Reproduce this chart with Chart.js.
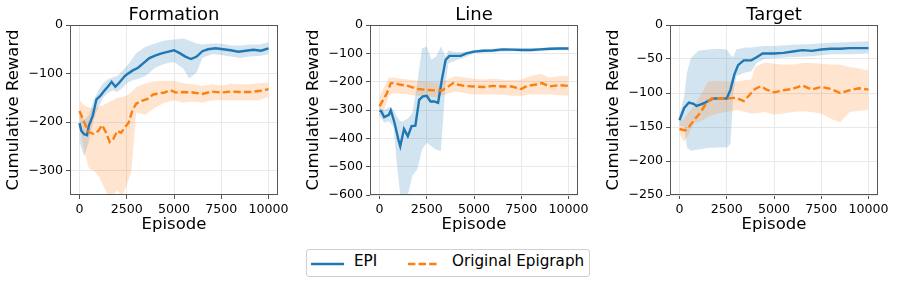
<!DOCTYPE html>
<html>
<head>
<meta charset="utf-8">
<script src="https://cdn.jsdelivr.net/npm/chart.js@4.4.0/dist/chart.umd.min.js"></script>
<style>
  body { margin: 0; background: #fff; width: 897px; height: 283px; position: relative; overflow: hidden; font-family: 'DejaVu Sans', sans-serif; }
  canvas { position: absolute; top: 0; }
  #legend { position: absolute; left: 306px; top: 249px; width: 284px; height: 28px; box-sizing: border-box;
    border: 1px solid #d0d0d0; border-radius: 3px; background: #fff; }
  #legend span { position: absolute; font-size: 15.2px; line-height: 15.2px; color: #000; white-space: nowrap; }
  #legend svg { position: absolute; top: 12px; }
</style>
</head>
<body>
<canvas id="formation" width="290" height="240" style="left:0px"></canvas>
<canvas id="line" width="290" height="240" style="left:300px"></canvas>
<canvas id="target" width="290" height="240" style="left:600px"></canvas>
<div id="legend">
  <svg width="33" height="4" style="left:4px"><line x1="0" y1="2" x2="33" y2="2" stroke="#1f77b4" stroke-width="2.4"/></svg>
  <span style="left:47px; top:4px">EPI</span>
  <svg width="31" height="4" style="left:101px"><line x1="0" y1="2" x2="31" y2="2" stroke="#ff7f0e" stroke-width="2.4" stroke-dasharray="7.4 3.2"/></svg>
  <span style="left:145px; top:4px">Original Epigraph</span>
</div>
<script>
// ---- data ----
var xTicks = [0, 2500, 5000, 7500, 10000];

// Formation
var fYTicks = [0, -100, -200, -300];
var fEpiX = [0,100,250,400,500,700,900,1100,1300,1500,1700,1900,2100,2400,2500,2800,3100,3400,3700,4000,4300,4600,5000,5300,5600,5900,6200,6500,6800,7200,7600,8000,8400,8800,9200,9600,10000];
var fEpiY = [-202,-218,-225,-227,-207,-187,-153,-146,-136,-127,-117,-127,-119,-105,-102,-94,-88,-78,-68,-63,-59,-56,-52,-58,-65,-70,-65,-54,-50,-48,-50,-52,-55,-53,-51,-53,-48];
var fOrigX = [0,250,500,750,1000,1200,1400,1600,1800,2000,2200,2400,2600,2800,3000,3300,3600,3900,4200,4500,4800,5100,5500,6000,6500,7000,7500,8000,8500,9000,9500,10000];
var fOrigY = [-177,-200,-221,-224,-218,-206,-221,-241,-234,-218,-222,-211,-201,-176,-162,-156,-152,-143,-141,-139,-134,-139,-138,-139,-142,-137,-139,-137,-138,-138,-136,-132];
var fBandX = [0,250,500,750,1000,1250,1500,1750,2000,2250,2500,2750,3000,3500,4000,4500,5000,5500,5800,6200,6500,7000,7500,8000,8500,9000,9500,10000];
var fEpiHi = [-185,-195,-185,-155,-135,-120,-112,-108,-105,-95,-85,-72,-58,-45,-38,-32,-30,-28,-32,-38,-40,-38,-38,-42,-42,-40,-40,-36];
var fEpiLo = [-240,-270,-240,-195,-170,-150,-140,-135,-138,-130,-120,-115,-112,-105,-88,-80,-76,-90,-110,-98,-68,-60,-62,-65,-68,-65,-64,-60];
var fOrigHi = [-155,-165,-170,-172,-168,-165,-160,-155,-150,-148,-145,-138,-128,-120,-116,-115,-115,-120,-121,-123,-125,-122,-125,-121,-122,-122,-120,-118];
var fOrigLo = [-205,-260,-295,-300,-310,-330,-350,-352,-340,-352,-330,-300,-180,-185,-170,-160,-155,-160,-158,-158,-160,-155,-155,-155,-155,-155,-155,-148];

// Line
var lYTicks = [0, -100, -200, -300, -400, -500, -600];
var lEpiX = [0,100,250,500,600,800,1000,1100,1300,1500,1700,1900,2100,2300,2500,2700,2900,3100,3300,3500,3700,4000,4300,4600,5000,5500,6000,6500,7000,7500,8000,8500,9000,9500,10000];
var lEpiY = [-302,-305,-325,-317,-301,-346,-404,-428,-367,-393,-357,-355,-264,-252,-250,-270,-270,-275,-193,-123,-109,-109,-109,-100,-94,-91,-90,-86,-87,-88,-88,-86,-84,-83,-83];
var lEpiBandX = [0,250,500,750,900,1100,1250,1500,1750,2000,2250,2500,2750,3000,3250,3500,3650,4000,4500,5000,5500,6000,7000,8000,9000,10000];
var lEpiHi = [-290,-300,-290,-300,-320,-340,-340,-330,-310,-205,-82,-76,-123,-111,-76,-111,-90,-95,-95,-88,-85,-84,-81,-82,-79,-78];
var lEpiLo = [-320,-345,-340,-360,-477,-600,-600,-600,-530,-510,-440,-416,-428,-440,-445,-205,-135,-125,-115,-100,-97,-96,-93,-94,-90,-89];
var lOrigX = [0,250,400,600,800,1000,1500,2000,2500,3000,3300,3600,3900,4200,4500,5000,5500,6000,6500,7000,7500,7800,8200,8600,9000,9500,10000];
var lOrigY = [-287,-258,-240,-205,-205,-209,-215,-226,-229,-231,-231,-219,-205,-211,-215,-217,-219,-215,-217,-217,-226,-215,-211,-205,-217,-212,-215];
var lOrigBandX = [0,250,500,750,1000,1500,2000,2500,3000,3500,4000,4500,5000,5500,6000,6500,7000,7500,8000,8500,9000,9500,10000];
var lOrigHi = [-252,-220,-185,-185,-188,-192,-197,-200,-205,-195,-180,-185,-190,-192,-190,-192,-195,-192,-180,-172,-185,-180,-180];
var lOrigLo = [-322,-300,-250,-240,-242,-245,-250,-252,-255,-245,-235,-240,-245,-245,-245,-246,-250,-250,-245,-245,-245,-248,-250];

// Target
var tYTicks = [0, -50, -100, -150, -200, -250];
var tEpiX = [0,250,500,750,900,1100,1300,1500,1800,2000,2500,2700,2900,3100,3400,3800,4100,4400,5000,5500,6000,6500,7000,7500,8000,8500,9000,9500,10000];
var tEpiY = [-140,-122,-114,-116,-119,-117,-115,-112,-108,-108,-108,-95,-73,-59,-52,-52,-47,-42,-42,-41,-39,-37,-38,-36,-35,-35,-34,-34,-34];
var tEpiBandX = [0,250,400,600,1000,1500,2000,2500,2700,2850,3000,3500,3800,4100,4500,5000,6000,7000,8000,9000,10000];
var tEpiHi = [-132,-105,-70,-49,-38,-36,-35,-36,-44,-47,-36,-33,-33,-32,-31,-31,-29,-28,-26,-25,-24];
var tEpiLo = [-148,-150,-180,-185,-183,-181,-180,-180,-175,-100,-75,-70,-68,-55,-50,-49,-47,-46,-43,-43,-42];
var tOrigX = [0,300,500,800,1100,1400,1700,2000,2500,3000,3400,3700,4000,4300,4600,5000,5500,6000,6500,7000,7500,8000,8500,9000,9500,10000];
var tOrigY = [-153,-155,-150,-139,-129,-116,-108,-108,-108,-107,-112,-103,-94,-90,-95,-99,-96,-94,-89,-95,-91,-94,-100,-96,-93,-95];
var tOrigBandX = [0,250,500,750,1000,1250,1500,2000,2500,3000,3500,3800,4000,4500,5000,5500,6000,6500,7000,7500,8000,8500,9000,9500,10000];
var tOrigHi = [-142,-138,-128,-120,-108,-97,-84,-82,-83,-83,-81,-80,-62,-55,-57,-58,-58,-56,-56,-57,-58,-58,-62,-64,-67];
var tOrigLo = [-160,-172,-160,-145,-143,-140,-135,-130,-128,-125,-128,-130,-130,-128,-132,-130,-128,-127,-128,-130,-138,-143,-128,-126,-125];

// ---- drawing ----
Chart.defaults.font.family = "'DejaVu Sans', sans-serif";
Chart.defaults.color = '#000';

var BLUE = '#1f77b4', ORANGE = '#ff7f0e';
var pts = (xs, ys) => xs.map((x, i) => ({x: x, y: ys[i]}));
var minus = v => (v < 0 ? '\u2212' + (-v) : '' + v);

var frame = {
  id: 'frame',
  afterDatasetsDraw(chart) {
    let a = chart.chartArea, c = chart.ctx;
    c.save();
    c.strokeStyle = '#555';
    c.lineWidth = 1;
    c.strokeRect(a.left + 0.5, a.top + 0.5, a.right - a.left - 1, a.bottom - a.top - 1);
    c.restore();
  }
};

var makeChart = (id, title, yMin, yTicks, s) => {
  let band = (xs, hi, lo, col) => [
    {data: pts(xs, hi), borderWidth: 0, pointRadius: 0, fill: '+1', backgroundColor: col},
    {data: pts(xs, lo), borderWidth: 0, pointRadius: 0, fill: false}
  ];
  return new Chart(document.getElementById(id), {
    type: 'line',
    data: {
      datasets: [
        {data: pts(s.origX, s.origY), borderColor: ORANGE, borderWidth: 2.4, borderDash: [7.4, 3.2], pointRadius: 0, fill: false},
        {data: pts(s.epiX, s.epiY), borderColor: BLUE, borderWidth: 2.4, pointRadius: 0, fill: false}
      ].concat(band(s.origBandX, s.origHi, s.origLo, 'rgba(255,127,14,0.2)'))
       .concat(band(s.epiBandX, s.epiHi, s.epiLo, 'rgba(31,119,180,0.2)'))
    },
    options: {
      responsive: false,
      animation: false,
      layout: {padding: {left: 0, right: 12, top: 0, bottom: 0}},
      plugins: {
        legend: {display: false},
        tooltip: {enabled: false},
        title: {display: true, text: title, fullSize: false, font: {size: 18, lineHeight: 1, weight: 'normal'}, padding: {top: 6, bottom: 1}}
      },
      scales: {
        x: {
          type: 'linear', min: -500, max: 10500,
          afterBuildTicks: sc => { sc.ticks = xTicks.map(v => ({value: v})); },
          afterFit: sc => { sc.height = 45; sc.paddingLeft = 0; sc.paddingRight = 0; },
          ticks: {autoSkip: false, maxRotation: 0, padding: 3.5, font: {size: 12.6}, callback: v => '' + v},
          grid: {color: '#e9e9e9', tickColor: '#555', tickLength: 4},
          border: {display: false},
          title: {display: true, text: 'Episode', font: {size: 16.5}, padding: {top: 0, bottom: 5}}
        },
        y: {
          type: 'linear', min: yMin, max: 0,
          afterBuildTicks: sc => { sc.ticks = yTicks.map(v => ({value: v})); },
          afterFit: sc => { sc.width = 70; sc.paddingTop = 0; sc.paddingBottom = 0; },
          ticks: {autoSkip: false, padding: 3, font: {size: 12.6}, callback: minus},
          grid: {color: '#e9e9e9', tickColor: '#555', tickLength: 4},
          border: {display: false},
          title: {display: true, text: 'Cumulative Reward', font: {size: 16.5}, padding: {top: 4, bottom: 0}}
        }
      }
    },
    plugins: [frame]
  });
};

makeChart('formation', 'Formation', -350, fYTicks, {
  epiX: fEpiX, epiY: fEpiY, origX: fOrigX, origY: fOrigY,
  epiBandX: fBandX, epiHi: fEpiHi, epiLo: fEpiLo,
  origBandX: fBandX, origHi: fOrigHi, origLo: fOrigLo
});
makeChart('line', 'Line', -600, lYTicks, {
  epiX: lEpiX, epiY: lEpiY, origX: lOrigX, origY: lOrigY,
  epiBandX: lEpiBandX, epiHi: lEpiHi, epiLo: lEpiLo,
  origBandX: lOrigBandX, origHi: lOrigHi, origLo: lOrigLo
});
makeChart('target', 'Target', -250, tYTicks, {
  epiX: tEpiX, epiY: tEpiY, origX: tOrigX, origY: tOrigY,
  epiBandX: tEpiBandX, epiHi: tEpiHi, epiLo: tEpiLo,
  origBandX: tOrigBandX, origHi: tOrigHi, origLo: tOrigLo
});
</script>
</body>
</html>
